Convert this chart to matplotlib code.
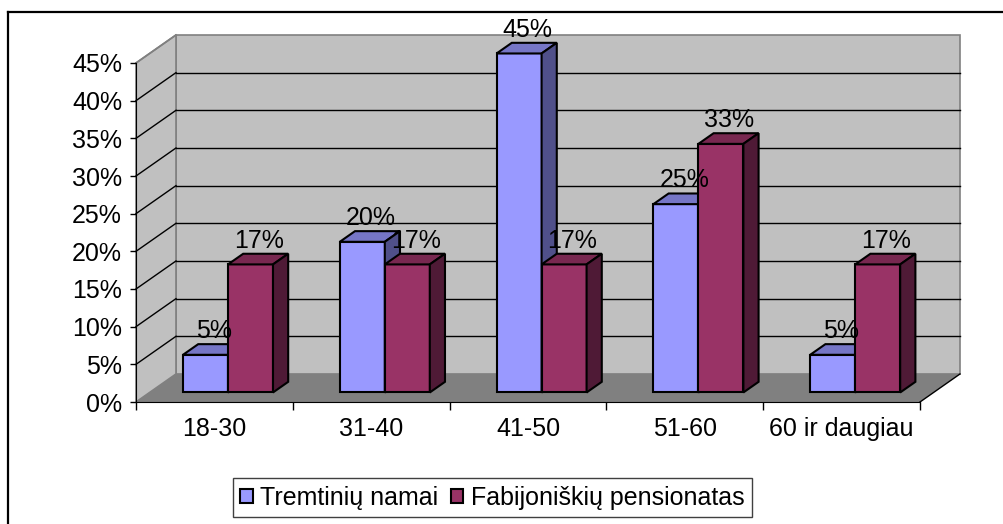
import matplotlib

matplotlib.use("Agg")
import matplotlib.pyplot as plt
from matplotlib.lines import Line2D
from matplotlib.patches import Patch, Polygon

plt.rcParams["font.family"] = ["Liberation Sans", "DejaVu Sans"]

categories = ["18-30", "31-40", "41-50", "51-60", "60 ir daugiau"]
series_names = ["Tremtinių namai", "Fabijoniškių pensionatas"]
tremtiniu = [5, 20, 45, 25, 5]
fabijoniskiu = [17, 17, 17, 33, 17]
y_ticks = [0, 5, 10, 15, 20, 25, 30, 35, 40, 45]

# face colours: front, top, side
palette = [
    ("#9999ff", "#7676c6", "#50508a"),
    ("#993366", "#782850", "#4f1a36"),
]
FS = 18

W, H, DPI = 1004, 524, 100
fig = plt.figure(figsize=(W / DPI, H / DPI), dpi=DPI)
ax = fig.add_axes([136 / W, 122 / H, 784 / W, 339 / H])
ax.set_xlim(0, len(categories))
ax.set_ylim(0, 45)
ax.patch.set_visible(False)

# oblique depth of the plot box (data units) and bar slab inside it
DX, DY = 0.255, 3.72
F0, F1 = 0.34, 0.72
BAR_W = 0.287
n = len(categories)


def poly(pts, fc, ec="none", lw=0.0, z=1):
    ax.add_patch(Polygon(pts, closed=True, facecolor=fc, edgecolor=ec,
                         linewidth=lw, zorder=z, clip_on=False,
                         joinstyle="miter"))


# walls and floor
poly([(DX, DY), (n + DX, DY), (n + DX, 45 + DY), (DX, 45 + DY)], "#c0c0c0",
     ec="#808080", lw=1.2, z=0.5)
poly([(0, 0), (DX, DY), (DX, 45 + DY), (0, 45)], "#c0c0c0",
     ec="#808080", lw=1.2, z=0.5)
poly([(0, 0), (n, 0), (n + DX, DY), (DX, DY)], "#808080", z=0.8)
ax.plot([n, n + DX], [0, DY], color="black", lw=1.0, zorder=0.9,
        clip_on=False)

for yv in y_ticks[1:-1]:
    ax.plot([DX, n + DX], [yv + DY, yv + DY], color="black", lw=1.0,
            zorder=0.6, clip_on=False)
    ax.plot([0, DX], [yv, yv + DY], color="black", lw=1.0, zorder=0.6,
            clip_on=False)
ax.plot([0, DX], [45, 45 + DY], color="#808080", lw=1.2, zorder=0.6,
        clip_on=False)

# bars
ddx = (F1 - F0) * DX
ddy = (F1 - F0) * DY
yb = F0 * DY
for s, values in enumerate([tremtiniu, fabijoniskiu]):
    front, top, side = palette[s]
    for i, v in enumerate(values):
        x0 = i + 0.5 - BAR_W + s * BAR_W + F0 * DX
        x1 = x0 + BAR_W
        yt = v + yb
        z = 2 + i * 2 + s
        poly([(x0, yb), (x1, yb), (x1, yt), (x0, yt)], front, "black", 1.5, z)
        poly([(x0, yt), (x1, yt), (x1 + ddx, yt + ddy), (x0 + ddx, yt + ddy)],
             top, "black", 1.5, z)
        poly([(x1, yb), (x1 + ddx, yb + ddy), (x1 + ddx, yt + ddy), (x1, yt)],
             side, "black", 1.5, z)
        ax.annotate(f"{v}%", ((x0 + x1) / 2, yt), xytext=(6, 12),
                    textcoords="offset points", ha="center", va="baseline",
                    fontsize=FS, zorder=30, annotation_clip=False)

# axes
for side_name in ["top", "right"]:
    ax.spines[side_name].set_visible(False)
ax.spines["left"].set_color("black")
ax.spines["bottom"].set_color("black")
ax.spines["left"].set_zorder(20)
ax.spines["bottom"].set_zorder(20)
ax.set_yticks(y_ticks)
ax.set_yticklabels([f"{t}%" for t in y_ticks])
ax.tick_params(axis="y", direction="out", length=4, width=1, pad=6,
               labelsize=FS)
ax.set_xticks(range(n + 1))
ax.set_xticklabels([""] * (n + 1))
ax.set_xticks([i + 0.5 for i in range(n)], minor=True)
ax.set_xticklabels(categories, minor=True)
ax.tick_params(axis="x", which="major", direction="out", length=6, width=1)
ax.tick_params(axis="x", which="minor", length=0, pad=11, labelsize=FS)

# legend
handles = [Patch(facecolor=palette[k][0], edgecolor="black", linewidth=1.5,
                 label=series_names[k]) for k in range(2)]
leg = fig.legend(handles=handles, loc="center",
                 bbox_to_anchor=(492.5 / W, 1 - 497.5 / H), ncol=2,
                 fontsize=FS, frameon=True, fancybox=False, framealpha=1,
                 edgecolor="#404040", handlelength=0.5, handleheight=0.5,
                 handletextpad=0.3, columnspacing=0.5, borderpad=0.3,
                 borderaxespad=0)
leg.get_frame().set_linewidth(1.0)

# outer chart border (left and top visible in the crop)
fig.add_artist(Line2D([8 / W, 8 / W], [0, 1 - 12 / H], color="black",
                      lw=1.6, transform=fig.transFigure))
fig.add_artist(Line2D([8 / W, 1], [1 - 12 / H, 1 - 12 / H], color="black",
                      lw=1.6, transform=fig.transFigure))

fig.savefig("out.png", dpi=DPI)
